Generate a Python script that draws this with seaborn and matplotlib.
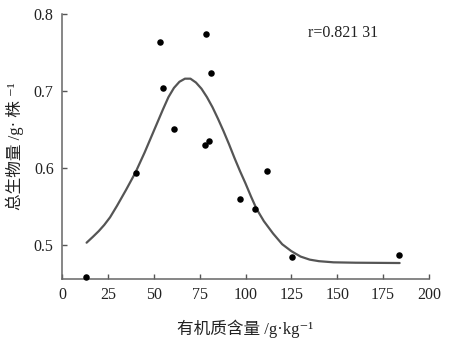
import matplotlib
matplotlib.use("Agg")
import matplotlib.pyplot as plt
import seaborn as sns
import pandas as pd

# observed points
om_content = [13.1, 40.5, 53.2, 54.9, 61.2, 77.8, 78.3, 80.3, 81.4, 97.0, 105.3, 111.7, 125.3, 183.7]
biomass = [0.459, 0.594, 0.764, 0.704, 0.651, 0.630, 0.774, 0.635, 0.724, 0.560, 0.547, 0.596, 0.484, 0.487]

# fitted curve
curve_x = [13.4, 17, 20, 23, 26.2, 30, 35, 40, 45, 50, 55, 58, 61, 64, 67, 70, 73, 76, 79,
           82, 85, 88, 91, 94, 97, 100, 103, 106, 110, 115, 120, 125, 130, 135, 140, 148, 160, 184]
curve_y = [0.503, 0.511, 0.518, 0.526, 0.536, 0.551, 0.572, 0.594, 0.620, 0.648, 0.676, 0.692,
           0.704, 0.712, 0.716, 0.716, 0.711, 0.703, 0.692, 0.679, 0.664, 0.648, 0.631, 0.613,
           0.596, 0.580, 0.563, 0.547, 0.531, 0.515, 0.501, 0.492, 0.485, 0.481, 0.479, 0.4775,
           0.477, 0.4766]

x_ticks = [0, 25, 50, 75, 100, 125, 150, 175, 200]
y_ticks = [0.5, 0.6, 0.7, 0.8]
r_text = "r=0.821 31"

sns.set_theme(style="ticks")
plt.rcParams['font.family'] = ['Liberation Serif', 'Noto Sans CJK SC', 'DejaVu Sans']

fig = plt.figure(figsize=(4.5, 3.52), dpi=100)
ax = fig.add_axes([62/450, 1 - 278.5/352, (429 - 62)/450, (278.5 - 14)/352])

pts = pd.DataFrame({"x": om_content, "y": biomass})
crv = pd.DataFrame({"x": curve_x, "y": curve_y})

sns.lineplot(data=crv, x="x", y="y", ax=ax, color="#555555", linewidth=1.6, sort=False)
sns.scatterplot(data=pts, x="x", y="y", ax=ax, color="black", s=22, edgecolor="black",
                linewidth=0, zorder=3, clip_on=False)

ax.set_xlim(0, 200)
ax.set_ylim(0.4565, 0.8)
ax.set_xticks(x_ticks)
ax.set_yticks(y_ticks)
ax.set_xticklabels([str(t) for t in x_ticks])
ax.set_yticklabels([f"{t:.1f}" for t in y_ticks])

for s in ["top", "right"]:
    ax.spines[s].set_visible(False)
for s in ["left", "bottom"]:
    ax.spines[s].set_color("#666666")
    ax.spines[s].set_linewidth(1.1)

ax.tick_params(direction="in", length=3.5, width=1.0, color="#555555",
               labelsize=11.5, labelcolor="#222222", pad=6)

lab_font = ['Liberation Serif', 'Noto Sans CJK SC', 'DejaVu Sans']
ax.set_xlabel("有机质含量 /g·kg⁻¹", fontsize=12, family=lab_font, color="#222222",
              labelpad=12, fontweight="medium")
ax.set_ylabel("总生物量 /g· 株 ⁻¹", fontsize=12, family=lab_font, color="#222222",
              labelpad=7, fontweight="medium")

ax.text(0.765, 0.93, r_text, transform=ax.transAxes, ha="center", va="center",
        fontsize=11.5, family="Liberation Serif", color="#222222")

fig.savefig("out.png", dpi=100)
